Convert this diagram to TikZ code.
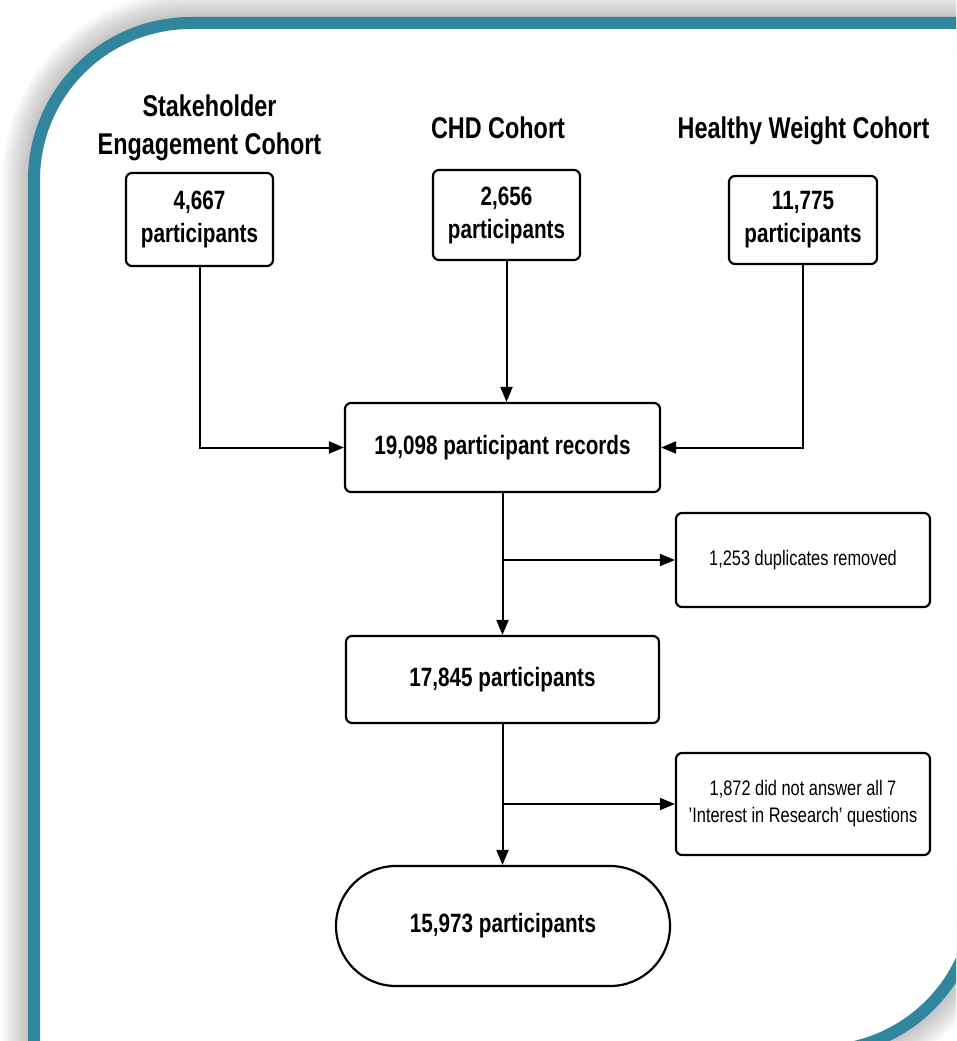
\documentclass[tikz,border=0pt]{standalone}
\usepackage{fontspec}
\setmainfont{Liberation Sans}[FakeStretch=0.78]
\usetikzlibrary{arrows.meta}
\definecolor{frameteal}{RGB}{49,134,157}
\newcommand{\myframepath}{(34,1051) -- (34,180) arc[start angle=180,end angle=270,radius=157] -- (1100,23) -- (1100,894) -- (976,894) arc[start angle=0,end angle=90,radius=157] -- cycle}
\begin{document}
\begin{tikzpicture}[x=1pt,y=-1pt,
  box/.style={draw=black, line width=2.2pt, rounded corners=6pt, fill=white, align=center, inner sep=0pt},
  conn/.style={line width=2pt, -{Triangle[length=15pt,width=12pt]}},
  ttl/.style={font=\fontsize{30}{38}\selectfont\bfseries, align=center, inner sep=0pt},
  bt/.style={font=\fontsize{26.5}{33}\selectfont\bfseries},
  st/.style={font=\fontsize{21}{27}\selectfont}
]
\useasboundingbox (0,0) rectangle (956,1041);
\clip (0,0) rectangle (956,1041);
% shadow
\foreach \w in {4,8,...,64} {
  \draw[line width=\w pt, black, opacity=0.02] \myframepath;
}
\fill[white] \myframepath;
\draw[frameteal, line width=12pt] \myframepath;

% titles
\node[ttl] (t1) at (209.5,128) {Stakeholder\\Engagement Cohort};
\node[ttl, anchor=base] (t2) at (498,138) {CHD Cohort};
\node[ttl, anchor=base] (t3) at (803.5,138) {Healthy Weight Cohort};

% cohort boxes
\node[box, bt, minimum width=147pt, minimum height=93pt] (b1) at (199.5,219.5) {4,667\\participants};
\node[box, bt, minimum width=147pt, minimum height=90pt] (b2) at (506.5,215) {2,656\\participants};
\node[box, bt, minimum width=148pt, minimum height=88pt] (b3) at (803,220) {11,775\\participants};

% flow
\node[box, bt, minimum width=315pt, minimum height=89pt] (b4) at (502.5,447.5) {19,098 participant records};
\node[box, st, minimum width=254pt, minimum height=94pt] (b5) at (803,560) {1,253 duplicates removed};
\node[box, bt, minimum width=313pt, minimum height=87pt] (b6) at (502.5,679.5) {17,845 participants};
\node[box, st, minimum width=254pt, minimum height=102pt] (b7) at (803,804) {1,872 did not answer all 7\\'Interest in Research' questions};
\node[box, bt, rounded corners=60pt, minimum width=334pt, minimum height=120pt] (b8) at (503,926) {15,973 participants};

% connectors
\draw[conn] (b1.south) |- (b4.west);
\draw[conn] (b2.south) -- (b2.south |- b4.north);
\draw[conn] (b3.south) |- (b4.east);
\draw[conn] (b4.south) -- (b6.north);
\coordinate (j1) at (b4.south |- b5.west);
\draw[conn] (j1) -- (b5.west);
\draw[conn] (b6.south) -- (b6.south |- b8.north);
\coordinate (j2) at (b6.south |- b7.west);
\draw[conn] (j2) -- (b7.west);
\end{tikzpicture}
\end{document}
